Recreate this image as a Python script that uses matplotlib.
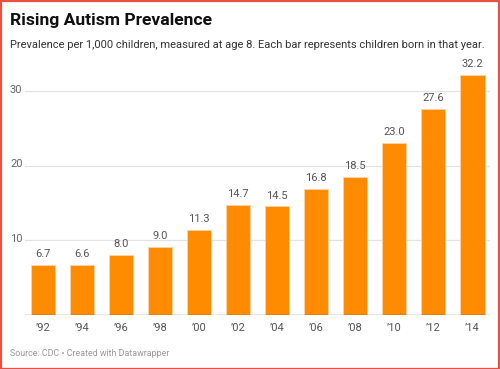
import matplotlib
matplotlib.use("Agg")
import matplotlib.pyplot as plt
from matplotlib.patches import Rectangle

years = ["\u201992", "\u201994", "\u201996", "\u201998", "\u201900", "\u201902",
         "\u201904", "\u201906", "\u201908", "\u201910", "\u201912", "\u201914"]
values = [6.7, 6.6, 8.0, 9.0, 11.3, 14.7, 14.5, 16.8, 18.5, 23.0, 27.6, 32.2]
yticks = [10, 20, 30]

plt.rcParams['font.family'] = ['Roboto', 'DejaVu Sans']

W, H = 500, 369
fig = plt.figure(figsize=(W / 100, H / 100), dpi=100)
fig.patch.set_facecolor("white")

x0, x1 = 25, 490
ytop, ybot = 61.2, 314.5
ax = fig.add_axes([x0 / W, 1 - ybot / H, (x1 - x0) / W, (ybot - ytop) / H])
ax.set_xlim(-0.46, len(values) - 1 + 0.45)
ax.set_ylim(0, 34)

xs = list(range(len(values)))
ax.bar(xs, values, width=0.62, color="#ff8c00", edgecolor="#ffd3a8",
       linewidth=0.6, zorder=3)
for x, v in zip(xs, values):
    ax.text(x, v + 0.8, f"{v:.1f}", ha="center", va="bottom",
            fontsize=8, color="#555555", zorder=4)

for t in yticks:
    ax.axhline(t, color="#e3e3e3", linewidth=0.9, zorder=1)
ax.axhline(0, color="#444444", linewidth=0.9, zorder=5)

for s in ax.spines.values():
    s.set_visible(False)
ax.set_yticks([])
ax.set_xticks(xs)
ax.set_xticklabels(years, fontsize=8, color="#555555")
ax.tick_params(axis="x", length=0, pad=6)

for t in yticks:
    y_px = ybot - t * (ybot - ytop) / 34
    fig.text(10 / W, 1 - (y_px - 1) / H, str(t), ha="left", va="center",
             fontsize=8, color="#666666")

fig.text(10 / W, 1 - 20 / H, "Rising Autism Prevalence", ha="left", va="center",
         fontsize=12.6, fontweight="bold", color="#111111")
fig.text(10 / W, 1 - 44.5 / H,
         "Prevalence per 1,000 children, measured at age 8. Each bar represents children born in that year.",
         ha="left", va="center", fontsize=8.0, color="#333333")
fig.text(10 / W, 1 - 354 / H, "Source: CDC \u2022 Created with Datawrapper",
         ha="left", va="center", fontsize=6.4, color="#9a9a9a")

fig.add_artist(Rectangle((0.5 / W, 0.5 / H), (W - 1.5) / W, (H - 1.5) / H,
                         transform=fig.transFigure, fill=False,
                         edgecolor="#e8503f", linewidth=1.6))

fig.savefig("out.png", dpi=100, facecolor="white")
